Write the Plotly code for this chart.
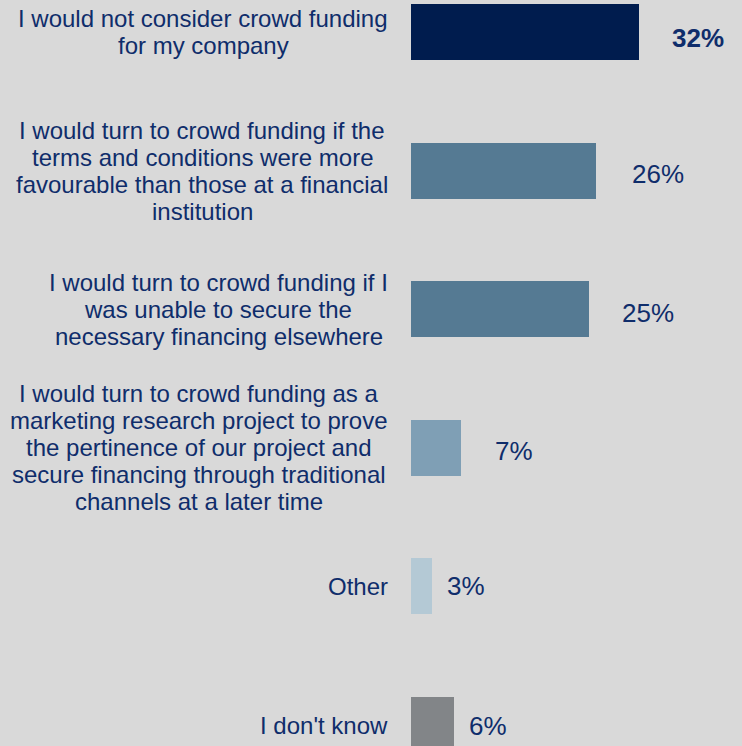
import plotly.graph_objects as go

# Survey answers (top to bottom) and their shares in percent
categories = [
    "I would not consider crowd funding<br>for my company",
    "I would turn to crowd funding if the<br>terms and conditions were more<br>favourable than those at a financial<br>institution",
    "I would turn to crowd funding if I<br>was unable to secure the<br>necessary financing elsewhere",
    "I would turn to crowd funding as a<br>marketing research project to prove<br>the pertinence of our project and<br>secure financing through traditional<br>channels at a later time",
    "Other",
    "I don't know",
]
values = [32, 26, 25, 7, 3, 6]
value_labels = ["32%", "26%", "25%", "7%", "3%", "6%"]

bar_colors = ["#001c4e", "#557a93", "#557a93", "#7f9fb5", "#b4c9d5", "#828588"]
label_bold = [True, False, False, False, False, False]
label_gap = [33, 36, 33, 34, 15, 15]   # px between bar end and value label
label_drop = [6, 3, 4, 3, 0, 1]        # px the value label sits below the bar centre

TEXT = "#0f2d6b"
BG = "#d9d9d9"
FONT = "Liberation Sans, Arial, sans-serif"
CAT_SIZE = 24
LINE_H = 27  # px between lines of a category label

# Arial / Liberation Sans advance widths (1/1000 em) used to centre lines
_W = {" ": 278, "'": 191, "I": 278, "O": 778,
      "a": 556, "b": 556, "c": 500, "d": 556, "e": 556, "f": 278, "g": 556,
      "h": 556, "i": 222, "j": 222, "k": 500, "l": 222, "m": 833, "n": 556,
      "o": 556, "p": 556, "q": 556, "r": 333, "s": 500, "t": 278, "u": 556,
      "v": 500, "w": 722, "x": 500, "y": 500, "z": 500}


def text_width(s, size):
    return sum(_W.get(ch, 556) for ch in s) * size / 1000.0


positions = list(range(len(categories)))

fig = go.Figure(
    go.Bar(
        x=values,
        y=positions,
        orientation="h",
        width=0.404,
        marker=dict(color=bar_colors, line=dict(width=0)),
        hoverinfo="skip",
    )
)

annotations = []
# category labels: lines centred on each other, block right-aligned next to the bars
for pos, cat in zip(positions, categories):
    lines = cat.split("<br>")
    n = len(lines)
    block_w = max(text_width(l, CAT_SIZE) for l in lines)
    for i, line in enumerate(lines):
        pad = (block_w - text_width(line, CAT_SIZE)) / 2
        annotations.append(dict(
            x=0, y=pos, xref="x", yref="y", text=line,
            xanchor="right", yanchor="middle",
            xshift=-21 - pad, yshift=((n - 1) / 2 - i) * LINE_H,
            showarrow=False, font=dict(family=FONT, size=CAT_SIZE, color=TEXT),
        ))
for pos, val, lab, bold, gap, drop in zip(positions, values, value_labels,
                                          label_bold, label_gap, label_drop):
    annotations.append(dict(
        x=val, y=pos, xref="x", yref="y",
        text=f"<b>{lab}</b>" if bold else lab,
        xanchor="left", yanchor="middle", xshift=gap - 2, yshift=-drop,
        showarrow=False, font=dict(family=FONT, size=26, color=TEXT),
    ))

fig.update_layout(
    width=742, height=746,
    margin=dict(l=411, r=0, t=0, b=0),
    paper_bgcolor=BG, plot_bgcolor=BG,
    showlegend=False,
    bargap=0,
    xaxis=dict(range=[0, 46.45], visible=False, fixedrange=True),
    yaxis=dict(range=[5.151, -0.231], visible=False, fixedrange=True),
    annotations=annotations,
)

fig.write_html("out.html")
